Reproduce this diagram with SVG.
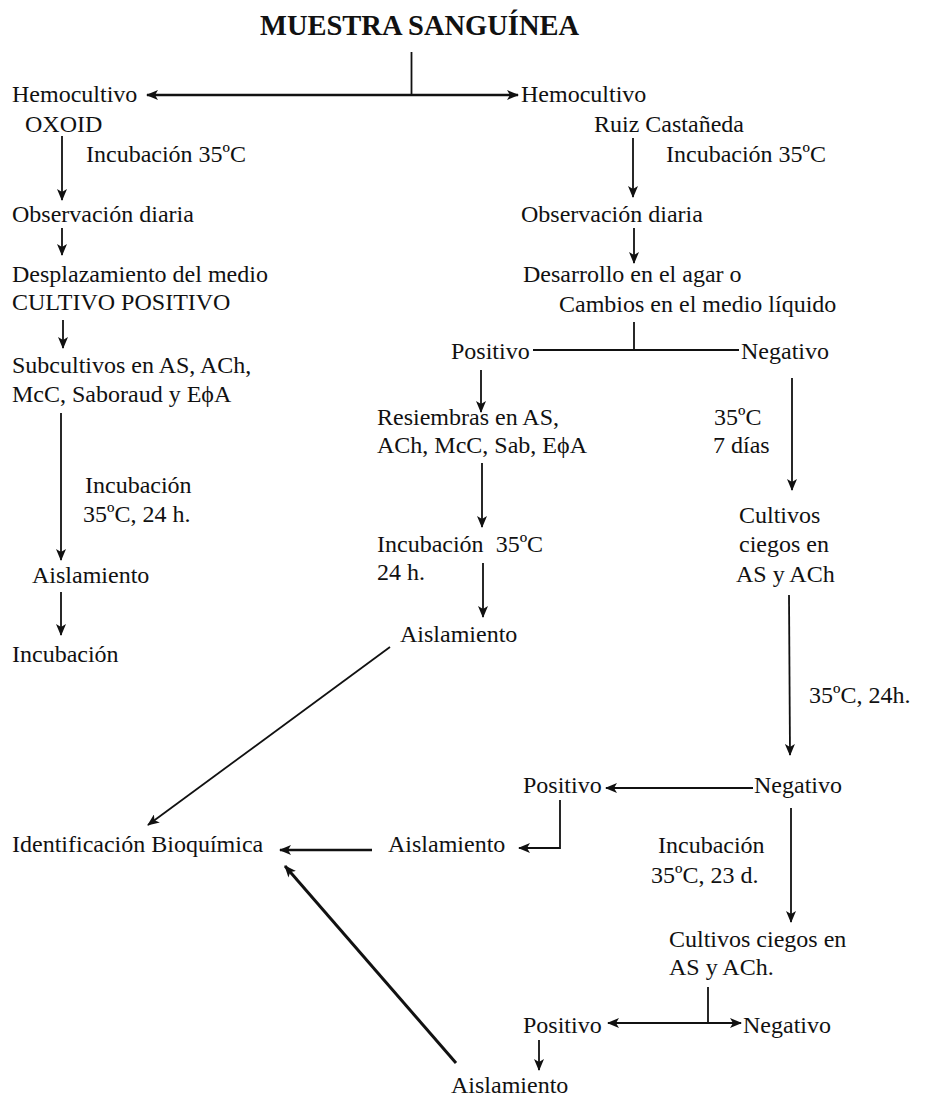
<svg xmlns="http://www.w3.org/2000/svg" width="926" height="1100" viewBox="0 0 926 1100">
<style>
  text { font-family: "Liberation Serif", "Times New Roman", serif; font-size: 24px; fill: #111; }
  .title { font-size: 28.5px; font-weight: bold; }
  .c { fill: none; stroke: #111; stroke-width: 1.8; }
  .thick { stroke-width: 2.6; }
</style>
<defs>
  <marker id="ah" markerUnits="userSpaceOnUse" markerWidth="12" markerHeight="10" refX="11" refY="5" orient="auto">
    <path d="M0,0 L12,5 L0,10 L3,5 z" fill="#111"/>
  </marker>
  <marker id="ahs" markerUnits="userSpaceOnUse" markerWidth="12" markerHeight="10" refX="1" refY="5" orient="auto">
    <path d="M12,0 L0,5 L12,10 L9,5 z" fill="#111"/>
  </marker>
</defs>
<rect width="926" height="1100" fill="#fff"/>

<g id="connectors">
  <line class="c" x1="411.5" y1="52" x2="411.5" y2="95"/>
  <line class="c thick" x1="147" y1="95" x2="518" y2="95" marker-start="url(#ahs)" marker-end="url(#ah)"/>
  <line class="c" x1="62" y1="136" x2="62" y2="200" marker-end="url(#ah)"/>
  <line class="c" x1="62" y1="228" x2="62" y2="255" marker-end="url(#ah)"/>
  <line class="c" x1="63" y1="320" x2="63" y2="348" marker-end="url(#ah)"/>
  <line class="c" x1="61" y1="413" x2="61" y2="560" marker-end="url(#ah)"/>
  <line class="c" x1="61" y1="592" x2="61" y2="635" marker-end="url(#ah)"/>
  <line class="c" x1="633" y1="138" x2="633" y2="197" marker-end="url(#ah)"/>
  <line class="c" x1="634" y1="228" x2="634" y2="263" marker-end="url(#ah)"/>
  <line class="c" x1="634" y1="322" x2="634" y2="350"/>
  <line class="c" x1="533" y1="350" x2="739" y2="350"/>
  <line class="c" x1="481" y1="370" x2="481" y2="412" marker-end="url(#ah)"/>
  <line class="c" x1="792" y1="378" x2="792" y2="490" marker-end="url(#ah)"/>
  <line class="c" x1="482" y1="463" x2="482" y2="527" marker-end="url(#ah)"/>
  <line class="c" x1="483" y1="563" x2="483" y2="617" marker-end="url(#ah)"/>
  <line class="c" x1="390" y1="647" x2="148" y2="825" marker-end="url(#ah)"/>
  <line class="c" x1="789" y1="595" x2="790" y2="755" marker-end="url(#ah)"/>
  <line class="c" x1="753" y1="788" x2="606" y2="788" marker-end="url(#ah)"/>
  <polyline class="c" points="560,800 560,848 519,848" marker-end="url(#ah)"/>
  <line class="c thick" x1="372" y1="850" x2="280" y2="850" marker-end="url(#ah)"/>
  <line class="c" x1="791" y1="808" x2="791" y2="922" marker-end="url(#ah)"/>
  <line class="c" x1="708" y1="987" x2="708" y2="1023"/>
  <line class="c" x1="608" y1="1023" x2="741" y2="1023" marker-start="url(#ahs)" marker-end="url(#ah)"/>
  <line class="c" x1="539" y1="1040" x2="539" y2="1070" marker-end="url(#ah)"/>
  <line class="c" style="stroke-width:3" x1="456" y1="1063" x2="285" y2="866" marker-end="url(#ah)"/>
</g>

<g id="n-muestra"><text class="title" x="260" y="35">MUESTRA SANGUÍNEA</text></g>
<g id="n-hemo-oxoid"><text x="12" y="102">Hemocultivo</text><text x="25" y="132">OXOID</text></g>
<g id="n-hemo-ruiz"><text x="521" y="102">Hemocultivo</text><text x="594" y="132">Ruiz Castañeda</text></g>
<g id="l-inc-left"><text x="86" y="162">Incubación 35ºC</text></g>
<g id="l-inc-right"><text x="666" y="162">Incubación 35ºC</text></g>
<g id="n-obs-left"><text x="12" y="222">Observación diaria</text></g>
<g id="n-obs-right"><text x="521" y="222">Observación diaria</text></g>
<g id="n-desplaz"><text x="12" y="282">Desplazamiento del medio</text><text x="12" y="310">CULTIVO POSITIVO</text></g>
<g id="n-desarrollo"><text x="523" y="282">Desarrollo en el agar o</text><text x="559" y="312">Cambios en el medio líquido</text></g>
<g id="n-subcult"><text x="12" y="373">Subcultivos en AS, ACh,</text><text x="12" y="402">McC, Saboraud y EϕA</text></g>
<g id="n-pos1"><text x="451" y="359">Positivo</text></g>
<g id="n-neg1"><text x="741" y="359">Negativo</text></g>
<g id="n-resiembras"><text x="377" y="425">Resiembras en AS,</text><text x="377" y="453">ACh, McC, Sab, EϕA</text></g>
<g id="l-7dias"><text x="714" y="425">35ºC</text><text x="713" y="453">7 días</text></g>
<g id="l-inc-24"><text x="85" y="493">Incubación</text><text x="83" y="522">35ºC, 24 h.</text></g>
<g id="l-inc-mid"><text x="377" y="552">Incubación <tspan dx="6">35ºC</tspan></text><text x="377" y="580">24 h.</text></g>
<g id="n-cultivos-ciegos1"><text x="739" y="523">Cultivos</text><text x="739" y="552">ciegos en</text><text x="736" y="582">AS y ACh</text></g>
<g id="n-aisl-left"><text x="32" y="583">Aislamiento</text></g>
<g id="n-aisl-mid"><text x="400" y="642">Aislamiento</text></g>
<g id="n-incub-left"><text x="12" y="662">Incubación</text></g>
<g id="l-35-24h"><text x="809" y="703">35ºC, 24h.</text></g>
<g id="n-pos2"><text x="523" y="793">Positivo</text></g>
<g id="n-neg2"><text x="754" y="793">Negativo</text></g>
<g id="n-ident"><text x="12" y="852">Identificación Bioquímica</text></g>
<g id="n-aisl-2"><text x="388" y="852">Aislamiento</text></g>
<g id="l-inc-23d"><text x="658" y="853">Incubación</text><text x="651" y="883">35ºC, 23 d.</text></g>
<g id="n-cultivos-ciegos2"><text x="669" y="947">Cultivos ciegos en</text><text x="669" y="975">AS y ACh.</text></g>
<g id="n-pos3"><text x="523" y="1033">Positivo</text></g>
<g id="n-neg3"><text x="743" y="1033">Negativo</text></g>
<g id="n-aisl-bottom"><text x="451" y="1093">Aislamiento</text></g>
</svg>
